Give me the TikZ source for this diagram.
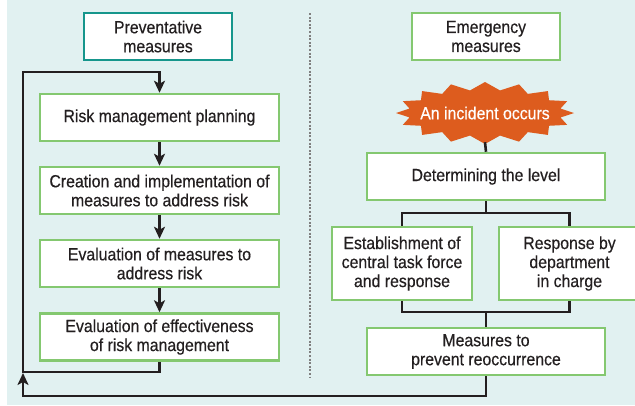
\documentclass[tikz,border=0pt]{standalone}
\usepackage{fontspec}
\setmainfont{Liberation Sans}[FakeStretch=0.9,FakeBold=0.4]
\usetikzlibrary{arrows.meta,positioning,calc}
\definecolor{bgcyan}{RGB}{225,241,241}
\definecolor{boxgreen}{RGB}{132,200,112}
\definecolor{boxteal}{RGB}{22,150,140}
\definecolor{burst}{RGB}{221,92,30}
\definecolor{inkdark}{RGB}{35,31,32}

\begin{document}
\begin{tikzpicture}[x=1pt,y=-1pt,
  box/.style={draw=boxgreen, line width=2.5pt, fill=white, rectangle,
    inner sep=0pt, align=center, text=inkdark,
    font=\fontsize{17.6}{19}\selectfont},
  hdr/.style={box, minimum width=148pt, minimum height=47pt},
  wide/.style={box, minimum width=239pt, minimum height=47pt},
  mid/.style={box, minimum width=140pt, minimum height=73pt},
  lne/.style={draw=inkdark, line width=2.6pt},
  lnk/.style={lne, -{Stealth[length=12pt,width=11pt,inset=3pt]}},
]
\useasboundingbox (0,0) rectangle (635,405);
\fill[bgcyan] (7,0) rectangle (635,405);
\begin{scope}
\clip (0,0) rectangle (635,405);
% left column: preventative measures
\node[hdr, draw=boxteal] (prev) at (158,36.5) {Preventative\\measures};
\node[wide] (plan) at (159.5,117.5) {Risk management planning};
\node[wide] (create) at (159.5,190.5) {Creation and implementation of\\measures to address risk};
\node[wide] (evalm) at (159.5,263.5) {Evaluation of measures to\\address risk};
\node[wide] (evale) at (159.5,337) {Evaluation of effectiveness\\of risk management};
\draw[lnk] (plan) -- (create);
\draw[lnk] (create) -- (evalm);
\draw[lnk] (evalm) -- (evale);
\coordinate (loopbl) at (23,372);
\coordinate (looptl) at (23,72);
\draw[lnk] (evale.south) |- (loopbl) -- (looptl) -| (plan.north);
% divider
\draw[gray, line width=2pt, dash pattern=on 2pt off 1.6pt] (310,13) -- (310,378);
% right column: emergency measures
\node[hdr] (emerg) at (486,36.5) {Emergency\\measures};
\coordinate (burstc) at (485,113);
\fill[burst] ($(burstc)+(89,0)$)
  \foreach \i [evaluate=\i as \rx using {mod(\i,2)==0 ? 89 : 77},
               evaluate=\i as \ry using {mod(\i,2)==0 ? 31 : 23}] in {1,...,31}
  { -- ($(burstc)+({\rx*cos(11.25*\i)},{\ry*sin(11.25*\i)})$) } -- cycle;
\node[text=white, inner sep=0pt, minimum height=58pt,
  font=\fontsize{17.6}{19}\selectfont] (incident) at (burstc) {An incident occurs};
\node[box, minimum width=238pt, minimum height=47pt] (level) at (486,176.5) {Determining the level};
\node[mid] (estab) at (402,263.5) {Establishment of\\central task force\\and response};
\node[mid, minimum width=141pt] (resp) at (569.5,263.5) {Response by\\department\\in charge};
\node[box, minimum width=238pt, minimum height=47pt] (prevent) at (486,351.5) {Measures to\\prevent reoccurrence};
\draw[lne] (incident.south) -- (level.north);
\coordinate (split) at (486,213);
\coordinate (join) at (486,312);
\draw[lne] (level.south) -- (split);
\draw[lne] (estab.north) |- (split) -| (resp.north);
\draw[lne] (estab.south) |- (join) -| (resp.south);
\draw[lne] (join) -- (prevent.north);
% back to the start
\coordinate (outbl) at (23,396);
\coordinate (outtip) at (23,373);
\draw[lnk] (prevent.south) |- (outbl) -- (outtip);
\end{scope}
\end{tikzpicture}
\end{document}
